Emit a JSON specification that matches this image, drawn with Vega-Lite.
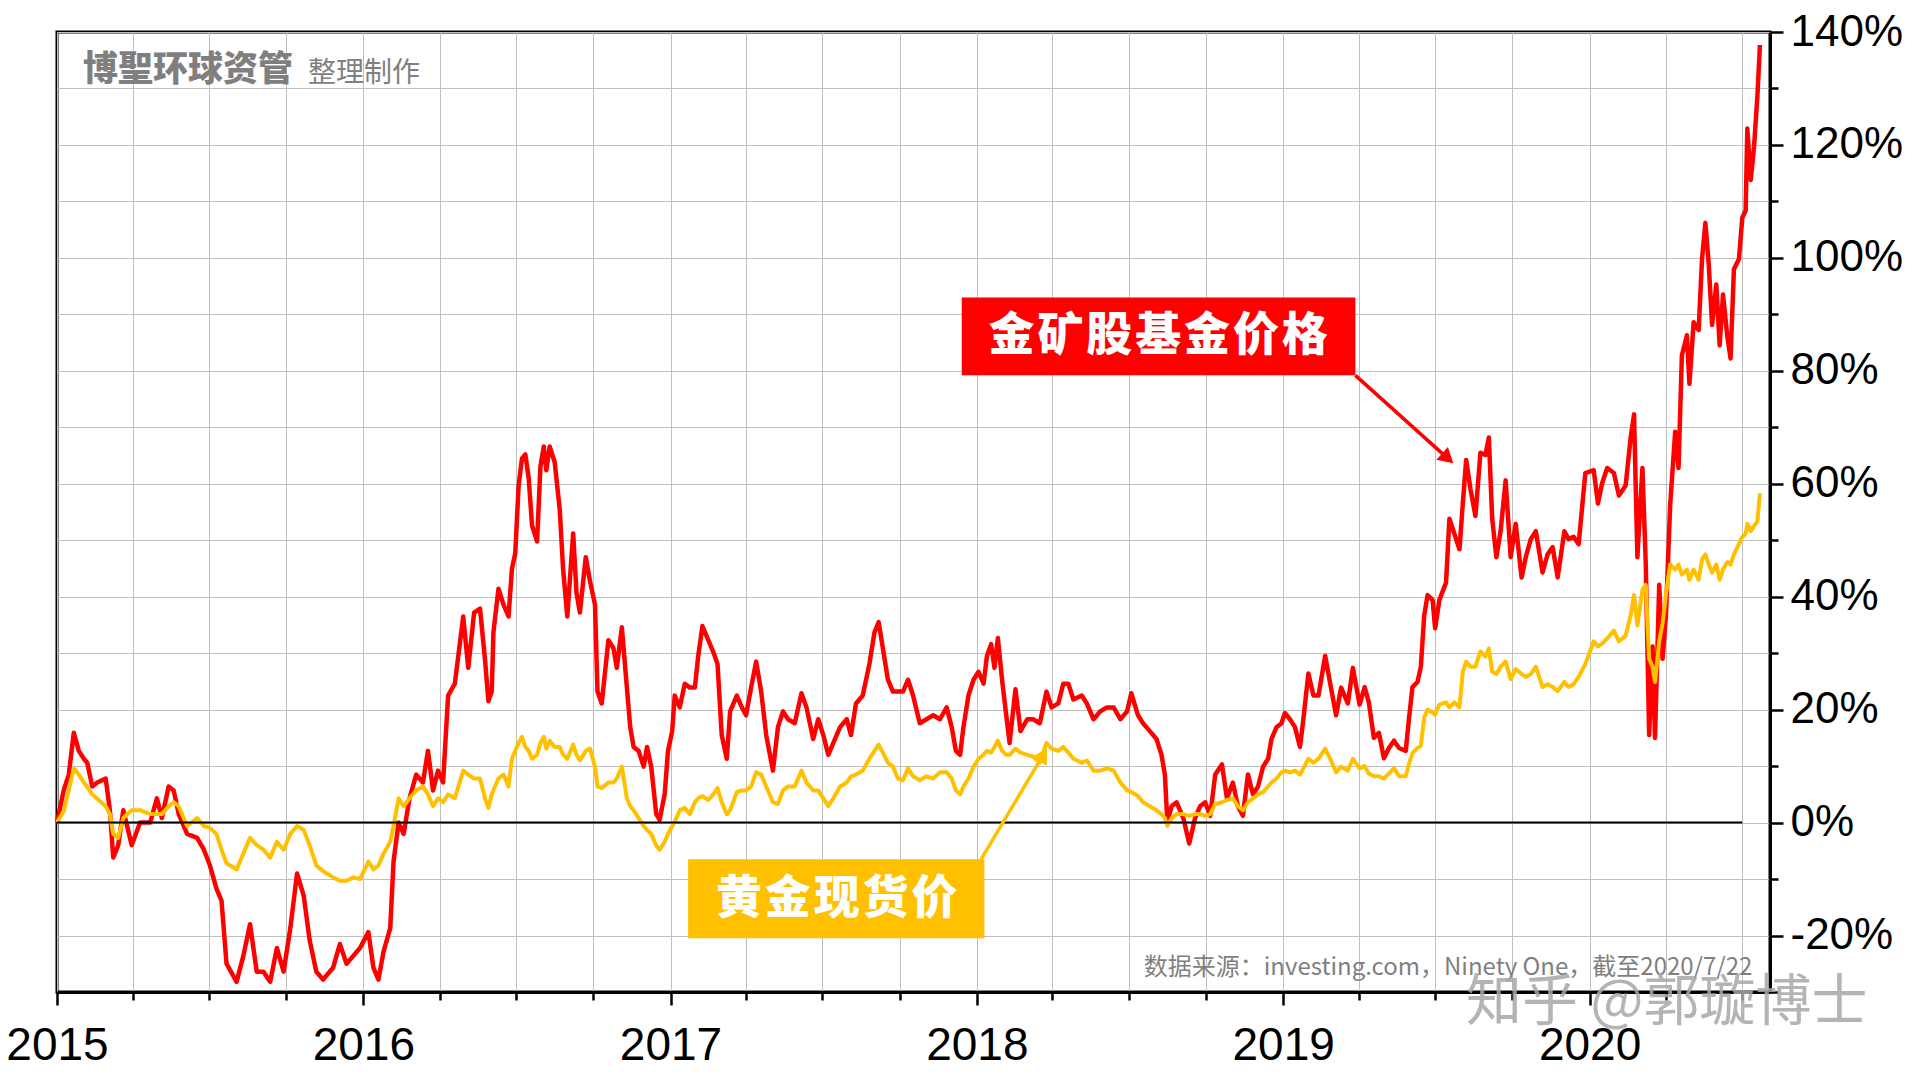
{
  "$schema": "https://vega.github.io/schema/vega-lite/v6.json",
  "width": 1713,
  "height": 960,
  "autosize": {"type": "none"},
  "padding": {"left": 57, "top": 32, "right": 150, "bottom": 88},
  "background": "white",
  "config": {"view": {"stroke": "black", "strokeWidth": 3}, "font": "Liberation Sans"},
  "datasets": {
    "fund": [
      {"d":"2015-01-01","v":0},{"d":"2015-01-09","v":5.7},{"d":"2015-01-15","v":8.5},{"d":"2015-01-21","v":15.9},{"d":"2015-01-27","v":12.7},{"d":"2015-02-02","v":11.3},{"d":"2015-02-06","v":10.6},{"d":"2015-02-12","v":6.4},{"d":"2015-02-18","v":7.1},{"d":"2015-02-28","v":7.8},{"d":"2015-03-05","v":2.2},{"d":"2015-03-09","v":-6.2},{"d":"2015-03-15","v":-4},{"d":"2015-03-21","v":2.2},{"d":"2015-03-31","v":-4},{"d":"2015-04-10","v":0},{"d":"2015-04-22","v":0},{"d":"2015-04-30","v":4.3},{"d":"2015-05-06","v":0.8},{"d":"2015-05-14","v":6.4},{"d":"2015-05-20","v":5.7},{"d":"2015-05-26","v":1.5},{"d":"2015-06-05","v":-2},{"d":"2015-06-17","v":-2.7},{"d":"2015-06-25","v":-4.8},{"d":"2015-07-02","v":-7.5},{"d":"2015-07-10","v":-11.7},{"d":"2015-07-16","v":-13.8},{"d":"2015-07-22","v":-25},{"d":"2015-08-03","v":-28.2},{"d":"2015-08-11","v":-23.6},{"d":"2015-08-19","v":-18},{"d":"2015-08-27","v":-26.4},{"d":"2015-09-04","v":-26.4},{"d":"2015-09-12","v":-28.2},{"d":"2015-09-20","v":-22.2},{"d":"2015-09-28","v":-26.4},{"d":"2015-10-06","v":-18.7},{"d":"2015-10-14","v":-9},{"d":"2015-10-22","v":-13},{"d":"2015-10-29","v":-20.8},{"d":"2015-11-06","v":-26.4},{"d":"2015-11-14","v":-27.8},{"d":"2015-11-26","v":-25.7},{"d":"2015-12-04","v":-21.5},{"d":"2015-12-12","v":-25},{"d":"2015-12-20","v":-23.6},{"d":"2015-12-28","v":-22.2},{"d":"2016-01-07","v":-19.4},{"d":"2016-01-13","v":-25.7},{"d":"2016-01-19","v":-27.8},{"d":"2016-01-25","v":-22.9},{"d":"2016-02-02","v":-18.7},{"d":"2016-02-06","v":-6.9},{"d":"2016-02-12","v":0},{"d":"2016-02-18","v":-2},{"d":"2016-02-25","v":4.3},{"d":"2016-03-04","v":8.5},{"d":"2016-03-12","v":7.1},{"d":"2016-03-18","v":12.7},{"d":"2016-03-24","v":5.7},{"d":"2016-03-30","v":9.2},{"d":"2016-04-05","v":7.1},{"d":"2016-04-11","v":22.5},{"d":"2016-04-19","v":24.6},{"d":"2016-04-29","v":36.5},{"d":"2016-05-05","v":27.4},{"d":"2016-05-12","v":37.2},{"d":"2016-05-19","v":37.9},{"d":"2016-05-25","v":28.8},{"d":"2016-05-29","v":21.5},{"d":"2016-06-02","v":23.2},{"d":"2016-06-04","v":33.7},{"d":"2016-06-10","v":41.4},{"d":"2016-06-16","v":38.6},{"d":"2016-06-22","v":36.5},{"d":"2016-06-26","v":44.9},{"d":"2016-06-30","v":47.7},{"d":"2016-07-04","v":59.6},{"d":"2016-07-08","v":64.5},{"d":"2016-07-12","v":65.2},{"d":"2016-07-16","v":61},{"d":"2016-07-20","v":52.6},{"d":"2016-07-26","v":49.8},{"d":"2016-07-30","v":63.1},{"d":"2016-08-03","v":66.6},{"d":"2016-08-06","v":62.4},{"d":"2016-08-10","v":66.6},{"d":"2016-08-16","v":63.8},{"d":"2016-08-22","v":55.4},{"d":"2016-08-26","v":44.9},{"d":"2016-08-31","v":36.5},{"d":"2016-09-07","v":51.2},{"d":"2016-09-11","v":40.7},{"d":"2016-09-15","v":37.2},{"d":"2016-09-22","v":47},{"d":"2016-09-27","v":42.8},{"d":"2016-10-03","v":38.6},{"d":"2016-10-06","v":23.2},{"d":"2016-10-11","v":21.1},{"d":"2016-10-19","v":32.3},{"d":"2016-10-25","v":30.9},{"d":"2016-10-29","v":27.4},{"d":"2016-11-04","v":34.6},{"d":"2016-11-10","v":23.9},{"d":"2016-11-14","v":16.9},{"d":"2016-11-18","v":13.4},{"d":"2016-11-24","v":12.7},{"d":"2016-11-30","v":9.9},{"d":"2016-12-04","v":13.4},{"d":"2016-12-09","v":9.9},{"d":"2016-12-15","v":1.5},{"d":"2016-12-19","v":0.5},{"d":"2016-12-25","v":5},{"d":"2016-12-29","v":12.7},
      {"d":"2017-01-03","v":16.2},{"d":"2017-01-06","v":22.5},{"d":"2017-01-12","v":20.4},{"d":"2017-01-18","v":24.6},{"d":"2017-01-24","v":23.9},{"d":"2017-01-30","v":23.9},{"d":"2017-02-03","v":29.5},{"d":"2017-02-08","v":34.8},{"d":"2017-02-15","v":32.3},{"d":"2017-02-21","v":30.2},{"d":"2017-02-26","v":28.1},{"d":"2017-03-03","v":15.5},{"d":"2017-03-09","v":11.3},{"d":"2017-03-13","v":19.7},{"d":"2017-03-21","v":22.5},{"d":"2017-03-27","v":20.4},{"d":"2017-04-01","v":19},{"d":"2017-04-07","v":23.9},{"d":"2017-04-13","v":28.5},{"d":"2017-04-19","v":23.2},{"d":"2017-04-25","v":15.5},{"d":"2017-05-03","v":9.2},{"d":"2017-05-09","v":16.9},{"d":"2017-05-15","v":19.7},{"d":"2017-05-21","v":18.3},{"d":"2017-05-29","v":17.6},{"d":"2017-06-06","v":22.9},{"d":"2017-06-12","v":20.4},{"d":"2017-06-20","v":14.8},{"d":"2017-06-26","v":18.3},{"d":"2017-07-02","v":15.5},{"d":"2017-07-08","v":12},{"d":"2017-07-14","v":14.1},{"d":"2017-07-22","v":16.9},{"d":"2017-07-30","v":18.3},{"d":"2017-08-04","v":15.5},{"d":"2017-08-10","v":21.1},{"d":"2017-08-18","v":22.5},{"d":"2017-08-26","v":28.1},{"d":"2017-09-01","v":33.7},{"d":"2017-09-06","v":35.5},{"d":"2017-09-11","v":30.9},{"d":"2017-09-17","v":25.3},{"d":"2017-09-23","v":23.2},{"d":"2017-09-29","v":23.2},{"d":"2017-10-05","v":23.2},{"d":"2017-10-11","v":25.3},{"d":"2017-10-17","v":22.5},{"d":"2017-10-25","v":17.6},{"d":"2017-11-02","v":18.3},{"d":"2017-11-10","v":19},{"d":"2017-11-18","v":18.3},{"d":"2017-11-26","v":20.4},{"d":"2017-12-02","v":16.9},{"d":"2017-12-07","v":12.7},{"d":"2017-12-12","v":12},{"d":"2017-12-16","v":16.9},{"d":"2017-12-22","v":22.5},{"d":"2017-12-28","v":25.3},
      {"d":"2018-01-03","v":26.7},{"d":"2018-01-09","v":24.6},{"d":"2018-01-13","v":29.5},{"d":"2018-01-18","v":31.6},{"d":"2018-01-22","v":27.4},{"d":"2018-01-26","v":32.7},{"d":"2018-01-31","v":25.3},{"d":"2018-02-05","v":19},{"d":"2018-02-09","v":14.1},{"d":"2018-02-16","v":23.6},{"d":"2018-02-22","v":16.2},{"d":"2018-03-02","v":18.3},{"d":"2018-03-09","v":18.3},{"d":"2018-03-17","v":17.6},{"d":"2018-03-25","v":23.2},{"d":"2018-03-31","v":20.4},{"d":"2018-04-08","v":21.1},{"d":"2018-04-14","v":24.6},{"d":"2018-04-20","v":24.6},{"d":"2018-04-26","v":21.8},{"d":"2018-05-06","v":22.5},{"d":"2018-05-12","v":21.1},{"d":"2018-05-20","v":18.3},{"d":"2018-05-28","v":19.7},{"d":"2018-06-05","v":20.4},{"d":"2018-06-13","v":20.4},{"d":"2018-06-21","v":18.3},{"d":"2018-06-29","v":19.7},{"d":"2018-07-04","v":22.9},{"d":"2018-07-12","v":19},{"d":"2018-07-18","v":17.6},{"d":"2018-07-26","v":16.2},{"d":"2018-08-03","v":14.8},{"d":"2018-08-09","v":12},{"d":"2018-08-13","v":8.5},{"d":"2018-08-16","v":0.1},{"d":"2018-08-21","v":2.9},{"d":"2018-08-27","v":3.6},{"d":"2018-09-04","v":0.8},{"d":"2018-09-11","v":-3.7},{"d":"2018-09-18","v":0.8},{"d":"2018-09-24","v":2.9},{"d":"2018-09-30","v":3.6},{"d":"2018-10-06","v":1.2},{"d":"2018-10-12","v":8.5},{"d":"2018-10-20","v":10.3},{"d":"2018-10-26","v":4.3},{"d":"2018-11-02","v":7.1},{"d":"2018-11-08","v":2.9},{"d":"2018-11-14","v":1.2},{"d":"2018-11-20","v":8.5},{"d":"2018-11-26","v":5},{"d":"2018-12-02","v":6.4},{"d":"2018-12-08","v":9.9},{"d":"2018-12-14","v":11.3},{"d":"2018-12-18","v":14.8},{"d":"2018-12-24","v":16.9},{"d":"2018-12-30","v":17.6},
      {"d":"2019-01-03","v":19.4},{"d":"2019-01-09","v":18.3},{"d":"2019-01-15","v":16.9},{"d":"2019-01-21","v":13.4},{"d":"2019-01-25","v":18.3},{"d":"2019-01-31","v":26.4},{"d":"2019-02-06","v":22.5},{"d":"2019-02-12","v":22.5},{"d":"2019-02-20","v":29.5},{"d":"2019-02-26","v":24.6},{"d":"2019-03-05","v":19},{"d":"2019-03-11","v":23.9},{"d":"2019-03-19","v":21.1},{"d":"2019-03-25","v":27.4},{"d":"2019-04-02","v":20.9},{"d":"2019-04-08","v":24},{"d":"2019-04-13","v":21.3},{"d":"2019-04-19","v":15},{"d":"2019-04-25","v":15.9},{"d":"2019-05-01","v":11.4},{"d":"2019-05-07","v":13.2},{"d":"2019-05-13","v":14.5},{"d":"2019-05-19","v":13.2},{"d":"2019-05-27","v":12.7},{"d":"2019-05-31","v":18.6},{"d":"2019-06-04","v":24},{"d":"2019-06-10","v":24.9},{"d":"2019-06-14","v":27.6},{"d":"2019-06-18","v":36.7},{"d":"2019-06-22","v":40.3},{"d":"2019-06-28","v":39.4},{"d":"2019-07-01","v":34.4},{"d":"2019-07-06","v":39.4},{"d":"2019-07-14","v":42.5},{"d":"2019-07-18","v":53.8},{"d":"2019-07-24","v":51.1},{"d":"2019-07-30","v":48.4},{"d":"2019-08-03","v":56.5},{"d":"2019-08-07","v":64.2},{"d":"2019-08-12","v":59.2},{"d":"2019-08-18","v":54.3},{"d":"2019-08-24","v":65.5},{"d":"2019-08-30","v":65.1},{"d":"2019-09-03","v":68.2},{"d":"2019-09-07","v":53.8},{"d":"2019-09-12","v":47},{"d":"2019-09-17","v":51.6},{"d":"2019-09-23","v":60.6},{"d":"2019-09-29","v":47},{"d":"2019-10-05","v":52.9},{"d":"2019-10-12","v":43.4},{"d":"2019-10-17","v":47},{"d":"2019-10-23","v":50.2},{"d":"2019-10-29","v":51.6},{"d":"2019-11-06","v":44.3},{"d":"2019-11-12","v":47.5},{"d":"2019-11-18","v":48.8},{"d":"2019-11-24","v":43.4},{"d":"2019-12-02","v":51.6},{"d":"2019-12-07","v":50.2},{"d":"2019-12-13","v":50.6},{"d":"2019-12-19","v":49.3},{"d":"2019-12-27","v":61.9},
      {"d":"2020-01-06","v":62.4},{"d":"2020-01-11","v":56.5},{"d":"2020-01-16","v":60.1},{"d":"2020-01-22","v":62.8},{"d":"2020-01-30","v":61.9},{"d":"2020-02-05","v":57.9},{"d":"2020-02-13","v":59.7},{"d":"2020-02-19","v":68.2},{"d":"2020-02-23","v":72.3},{"d":"2020-02-27","v":47},{"d":"2020-03-04","v":62.8},{"d":"2020-03-08","v":45.7},{"d":"2020-03-12","v":15.5},{"d":"2020-03-16","v":31.2},{"d":"2020-03-19","v":15},{"d":"2020-03-24","v":42.1},{"d":"2020-03-28","v":29},{"d":"2020-04-01","v":36.7},{"d":"2020-04-06","v":56.1},{"d":"2020-04-12","v":69.2},{"d":"2020-04-16","v":62.8},{"d":"2020-04-20","v":82.7},{"d":"2020-04-26","v":86.3},{"d":"2020-04-29","v":77.7},{"d":"2020-05-04","v":88.6},{"d":"2020-05-10","v":87.2},{"d":"2020-05-14","v":99.8},{"d":"2020-05-18","v":106.2},{"d":"2020-05-22","v":98.9},{"d":"2020-05-26","v":88.1},{"d":"2020-05-31","v":95.3},{"d":"2020-06-04","v":84.5},{"d":"2020-06-08","v":93.5},{"d":"2020-06-13","v":86.3},{"d":"2020-06-17","v":82.2},{"d":"2020-06-21","v":98},{"d":"2020-06-27","v":99.8},{"d":"2020-07-01","v":107.1},{"d":"2020-07-05","v":108.4},{"d":"2020-07-07","v":122.9},{"d":"2020-07-11","v":113.8},{"d":"2020-07-15","v":119.7},{"d":"2020-07-19","v":128.7},{"d":"2020-07-22","v":137.7}
    ],
    "gold": [
      {"d":"2015-01-01","v":0},{"d":"2015-01-09","v":2},{"d":"2015-01-15","v":5.7},{"d":"2015-01-21","v":9.6},{"d":"2015-01-27","v":8.5},{"d":"2015-02-02","v":7.1},{"d":"2015-02-06","v":6.3},{"d":"2015-02-12","v":5},{"d":"2015-02-28","v":2.9},{"d":"2015-03-05","v":1.5},{"d":"2015-03-09","v":-2},{"d":"2015-03-15","v":-2.7},{"d":"2015-03-21","v":0.8},{"d":"2015-03-31","v":2.2},{"d":"2015-04-10","v":2.2},{"d":"2015-04-22","v":1.5},{"d":"2015-04-30","v":1.5},{"d":"2015-05-06","v":1.5},{"d":"2015-05-14","v":2.9},{"d":"2015-05-20","v":3.6},{"d":"2015-05-26","v":2.9},{"d":"2015-06-05","v":-0.6},{"d":"2015-06-17","v":0.8},{"d":"2015-06-25","v":-0.6},{"d":"2015-07-02","v":-0.9},{"d":"2015-07-10","v":-2},{"d":"2015-07-16","v":-4.8},{"d":"2015-07-22","v":-7.2},{"d":"2015-08-03","v":-8.3},{"d":"2015-08-11","v":-5.5},{"d":"2015-08-19","v":-2.7},{"d":"2015-08-27","v":-4},{"d":"2015-09-04","v":-4.8},{"d":"2015-09-12","v":-6.2},{"d":"2015-09-20","v":-3.4},{"d":"2015-09-28","v":-4.8},{"d":"2015-10-06","v":-2},{"d":"2015-10-14","v":-0.6},{"d":"2015-10-22","v":-1.3},{"d":"2015-10-29","v":-4},{"d":"2015-11-06","v":-7.6},{"d":"2015-11-14","v":-8.6},{"d":"2015-11-26","v":-9.7},{"d":"2015-12-04","v":-10.3},{"d":"2015-12-12","v":-10.3},{"d":"2015-12-20","v":-9.7},{"d":"2015-12-28","v":-10},{"d":"2016-01-07","v":-6.9},{"d":"2016-01-13","v":-8.3},{"d":"2016-01-19","v":-7.6},{"d":"2016-01-25","v":-5.5},{"d":"2016-02-02","v":-3.4},{"d":"2016-02-06","v":-0.6},{"d":"2016-02-12","v":4.3},{"d":"2016-02-18","v":2.9},{"d":"2016-02-25","v":4.3},{"d":"2016-03-04","v":5.7},{"d":"2016-03-12","v":6.4},{"d":"2016-03-18","v":5},{"d":"2016-03-24","v":2.9},{"d":"2016-03-30","v":4.3},{"d":"2016-04-05","v":3.6},{"d":"2016-04-11","v":5},{"d":"2016-04-19","v":4.3},{"d":"2016-04-29","v":9.2},{"d":"2016-05-05","v":8.5},{"d":"2016-05-12","v":7.8},{"d":"2016-05-19","v":7.8},{"d":"2016-05-25","v":4.3},{"d":"2016-05-29","v":2.6},{"d":"2016-06-02","v":5},{"d":"2016-06-10","v":7.8},{"d":"2016-06-16","v":8.5},{"d":"2016-06-22","v":6.4},{"d":"2016-06-26","v":11.3},{"d":"2016-06-30","v":12.7},{"d":"2016-07-04","v":14.1},{"d":"2016-07-08","v":15.2},{"d":"2016-07-12","v":13.4},{"d":"2016-07-16","v":12.7},{"d":"2016-07-20","v":11.3},{"d":"2016-07-26","v":12},{"d":"2016-07-30","v":14.1},{"d":"2016-08-03","v":15.2},{"d":"2016-08-06","v":13.1},{"d":"2016-08-10","v":14.5},{"d":"2016-08-16","v":13.4},{"d":"2016-08-22","v":13.4},{"d":"2016-08-26","v":12},{"d":"2016-08-31","v":11.3},{"d":"2016-09-07","v":13.8},{"d":"2016-09-11","v":12},{"d":"2016-09-15","v":11},{"d":"2016-09-22","v":12.7},{"d":"2016-09-27","v":13.1},{"d":"2016-10-03","v":9.9},{"d":"2016-10-06","v":6.4},{"d":"2016-10-11","v":6.1},{"d":"2016-10-19","v":7.1},{"d":"2016-10-25","v":7.1},{"d":"2016-10-29","v":7.8},{"d":"2016-11-04","v":9.9},{"d":"2016-11-10","v":4.3},{"d":"2016-11-14","v":2.9},{"d":"2016-11-18","v":2.2},{"d":"2016-11-24","v":0.8},{"d":"2016-11-30","v":-0.6},{"d":"2016-12-04","v":-1.3},{"d":"2016-12-09","v":-2},{"d":"2016-12-15","v":-4.1},{"d":"2016-12-19","v":-4.8},{"d":"2016-12-25","v":-3.4},{"d":"2016-12-29","v":-2},
      {"d":"2017-01-03","v":-0.6},{"d":"2017-01-06","v":0.1},{"d":"2017-01-12","v":2.2},{"d":"2017-01-18","v":2.6},{"d":"2017-01-24","v":1.5},{"d":"2017-01-30","v":3.6},{"d":"2017-02-03","v":4.3},{"d":"2017-02-08","v":4.7},{"d":"2017-02-15","v":4},{"d":"2017-02-21","v":5},{"d":"2017-02-26","v":6.1},{"d":"2017-03-03","v":3.6},{"d":"2017-03-09","v":1.5},{"d":"2017-03-13","v":2.2},{"d":"2017-03-21","v":5.4},{"d":"2017-03-27","v":5.7},{"d":"2017-04-01","v":5.7},{"d":"2017-04-07","v":6.4},{"d":"2017-04-13","v":8.9},{"d":"2017-04-19","v":8.5},{"d":"2017-04-25","v":6.4},{"d":"2017-05-03","v":3.6},{"d":"2017-05-09","v":3.3},{"d":"2017-05-15","v":5.7},{"d":"2017-05-21","v":6.4},{"d":"2017-05-29","v":6.4},{"d":"2017-06-06","v":9.2},{"d":"2017-06-12","v":7.1},{"d":"2017-06-20","v":5.7},{"d":"2017-06-26","v":5.7},{"d":"2017-07-02","v":4.3},{"d":"2017-07-08","v":2.9},{"d":"2017-07-14","v":4.3},{"d":"2017-07-22","v":6.4},{"d":"2017-07-30","v":7.1},{"d":"2017-08-04","v":8.2},{"d":"2017-08-10","v":8.5},{"d":"2017-08-18","v":9.2},{"d":"2017-08-26","v":11.3},{"d":"2017-09-01","v":12.7},{"d":"2017-09-06","v":13.8},{"d":"2017-09-11","v":12.4},{"d":"2017-09-17","v":10.6},{"d":"2017-09-23","v":9.9},{"d":"2017-09-29","v":7.8},{"d":"2017-10-05","v":7.5},{"d":"2017-10-11","v":9.6},{"d":"2017-10-17","v":8.2},{"d":"2017-10-25","v":7.5},{"d":"2017-11-02","v":8.2},{"d":"2017-11-10","v":7.8},{"d":"2017-11-18","v":8.9},{"d":"2017-11-26","v":8.9},{"d":"2017-12-02","v":7.8},{"d":"2017-12-07","v":5.7},{"d":"2017-12-12","v":5},{"d":"2017-12-16","v":6.4},{"d":"2017-12-22","v":7.8},{"d":"2017-12-28","v":9.9},
      {"d":"2018-01-03","v":11.3},{"d":"2018-01-09","v":12},{"d":"2018-01-13","v":12.7},{"d":"2018-01-18","v":12.4},{"d":"2018-01-22","v":13.4},{"d":"2018-01-26","v":14.5},{"d":"2018-01-31","v":12.7},{"d":"2018-02-05","v":12},{"d":"2018-02-09","v":12},{"d":"2018-02-16","v":13.1},{"d":"2018-02-22","v":12.4},{"d":"2018-03-02","v":12},{"d":"2018-03-09","v":11.7},{"d":"2018-03-17","v":10.6},{"d":"2018-03-25","v":14.1},{"d":"2018-03-31","v":13.1},{"d":"2018-04-08","v":12.7},{"d":"2018-04-14","v":13.4},{"d":"2018-04-20","v":12.4},{"d":"2018-04-26","v":11.3},{"d":"2018-05-06","v":10.6},{"d":"2018-05-12","v":11},{"d":"2018-05-20","v":9.2},{"d":"2018-05-28","v":9.2},{"d":"2018-06-05","v":9.6},{"d":"2018-06-13","v":9.2},{"d":"2018-06-21","v":7.1},{"d":"2018-06-29","v":5.7},{"d":"2018-07-04","v":5.4},{"d":"2018-07-12","v":4.7},{"d":"2018-07-18","v":3.6},{"d":"2018-07-26","v":2.9},{"d":"2018-08-03","v":2.2},{"d":"2018-08-09","v":1.5},{"d":"2018-08-13","v":0.8},{"d":"2018-08-16","v":-0.6},{"d":"2018-08-21","v":0.8},{"d":"2018-08-27","v":1.5},{"d":"2018-09-04","v":1.5},{"d":"2018-09-11","v":1.2},{"d":"2018-09-18","v":1.5},{"d":"2018-09-24","v":1.5},{"d":"2018-09-30","v":1.2},{"d":"2018-10-06","v":1.5},{"d":"2018-10-12","v":3.3},{"d":"2018-10-20","v":3.6},{"d":"2018-10-26","v":4},{"d":"2018-11-02","v":4.3},{"d":"2018-11-08","v":2.9},{"d":"2018-11-14","v":2.2},{"d":"2018-11-20","v":3.6},{"d":"2018-11-26","v":4.3},{"d":"2018-12-02","v":5},{"d":"2018-12-08","v":5.4},{"d":"2018-12-14","v":6.4},{"d":"2018-12-18","v":7.1},{"d":"2018-12-24","v":7.8},{"d":"2018-12-30","v":8.9},
      {"d":"2019-01-03","v":9.2},{"d":"2019-01-09","v":8.9},{"d":"2019-01-15","v":9.2},{"d":"2019-01-21","v":8.5},{"d":"2019-01-25","v":9.6},{"d":"2019-01-31","v":11.3},{"d":"2019-02-06","v":10.6},{"d":"2019-02-12","v":11.3},{"d":"2019-02-20","v":13.1},{"d":"2019-02-26","v":11.3},{"d":"2019-03-05","v":8.9},{"d":"2019-03-11","v":9.9},{"d":"2019-03-19","v":9.2},{"d":"2019-03-25","v":11.3},{"d":"2019-04-02","v":9.6},{"d":"2019-04-08","v":10},{"d":"2019-04-13","v":8.7},{"d":"2019-04-19","v":8.2},{"d":"2019-04-25","v":8.2},{"d":"2019-05-01","v":7.8},{"d":"2019-05-07","v":8.7},{"d":"2019-05-13","v":9.6},{"d":"2019-05-19","v":8.2},{"d":"2019-05-27","v":8.2},{"d":"2019-05-31","v":10.5},{"d":"2019-06-04","v":12.3},{"d":"2019-06-10","v":13.2},{"d":"2019-06-14","v":13.6},{"d":"2019-06-18","v":18.6},{"d":"2019-06-22","v":20},{"d":"2019-06-28","v":19.5},{"d":"2019-07-01","v":19.1},{"d":"2019-07-06","v":20.9},{"d":"2019-07-14","v":21.3},{"d":"2019-07-18","v":20.4},{"d":"2019-07-24","v":21.3},{"d":"2019-07-30","v":20.4},{"d":"2019-08-03","v":26.7},{"d":"2019-08-07","v":28.5},{"d":"2019-08-12","v":27.6},{"d":"2019-08-18","v":27.6},{"d":"2019-08-24","v":30.3},{"d":"2019-08-30","v":29.4},{"d":"2019-09-03","v":30.8},{"d":"2019-09-07","v":26.7},{"d":"2019-09-12","v":26.3},{"d":"2019-09-17","v":27.6},{"d":"2019-09-23","v":28.5},{"d":"2019-09-29","v":25.4},{"d":"2019-10-05","v":27.2},{"d":"2019-10-12","v":26.3},{"d":"2019-10-17","v":25.8},{"d":"2019-10-23","v":26.3},{"d":"2019-10-29","v":27.6},{"d":"2019-11-06","v":24},{"d":"2019-11-12","v":24.5},{"d":"2019-11-18","v":24},{"d":"2019-11-24","v":23.3},{"d":"2019-12-02","v":24.9},{"d":"2019-12-07","v":24},{"d":"2019-12-13","v":24.5},{"d":"2019-12-19","v":25.8},{"d":"2019-12-27","v":28.1},
      {"d":"2020-01-06","v":32.1},{"d":"2020-01-11","v":31.2},{"d":"2020-01-16","v":31.7},{"d":"2020-01-22","v":32.6},{"d":"2020-01-30","v":34},{"d":"2020-02-05","v":32.1},{"d":"2020-02-13","v":33.1},{"d":"2020-02-19","v":36.7},{"d":"2020-02-23","v":40.3},{"d":"2020-02-27","v":34.9},{"d":"2020-03-04","v":41.2},{"d":"2020-03-08","v":42.1},{"d":"2020-03-12","v":29},{"d":"2020-03-16","v":27.6},{"d":"2020-03-19","v":24.9},{"d":"2020-03-24","v":32.1},{"d":"2020-03-28","v":35.3},{"d":"2020-04-01","v":40.3},{"d":"2020-04-06","v":45.7},{"d":"2020-04-12","v":44.8},{"d":"2020-04-16","v":45.7},{"d":"2020-04-20","v":43.9},{"d":"2020-04-26","v":44.8},{"d":"2020-04-29","v":43},{"d":"2020-05-04","v":44.8},{"d":"2020-05-10","v":43},{"d":"2020-05-14","v":46.6},{"d":"2020-05-18","v":47.5},{"d":"2020-05-22","v":45.7},{"d":"2020-05-26","v":44.3},{"d":"2020-05-31","v":45.7},{"d":"2020-06-04","v":43},{"d":"2020-06-08","v":44.8},{"d":"2020-06-13","v":46.1},{"d":"2020-06-17","v":45.7},{"d":"2020-06-21","v":47.5},{"d":"2020-06-27","v":49.3},{"d":"2020-07-01","v":50.6},{"d":"2020-07-05","v":51.1},{"d":"2020-07-07","v":52.9},{"d":"2020-07-11","v":51.6},{"d":"2020-07-15","v":52.5},{"d":"2020-07-19","v":53.4},{"d":"2020-07-22","v":58.3}
    ],
    "zero": [{"d":"2015-01-01","d2":"2020-07-01","v":0}],
    "boxes": [
      {"k":"fund","d":"2017-12-14","d2":"2019-03-28","v":79.2,"v2":93.0,"t":"金\u200a矿\u200a股\u200a基\u200a金\u200a价\u200a格","m":"2018-08-05","c":86.1},
      {"k":"gold","d":"2017-01-22","d2":"2018-01-10","v":-20.5,"v2":-6.5,"t":"黄\u200a金\u200a现\u200a货\u200a价","m":"2017-07-18","c":-13.5}
    ],
    "arrows": [
      {"k":"fund","d":"2019-03-28","v":79.2,"d2":"2019-07-16","v2":64.5},
      {"k":"gold","d":"2018-01-06","v":-6.5,"d2":"2018-03-21","v2":12.0}
    ],
    "notes": [
      {"k":"brand","t":"博聖环球资管","d":"2015-02-01","v":133.2},
      {"k":"made","t":"整理制作","d":"2015-10-27","v":132.6},
      {"k":"source","t":"数据来源：investing.com，Ninety One，截至2020/7/22","d":"2020-07-13","v":-25.8},
      {"k":"mark","t":"知乎 @郭璇博士","d":"2020-04-02","v":-32}
    ]
  },
  "layer": [
    {
      "data": {"name": "fund"},
      "mark": {"type": "line", "color": "#ff0000", "strokeWidth": 4.5, "strokeJoin": "round"},
      "encoding": {
        "x": {
          "field": "d", "type": "temporal",
          "scale": {"domain": [{"year": 2015, "month": 1, "date": 1}, {"year": 2020, "month": 8, "date": 3}]},
          "axis": {
            "title": null,
            "tickCount": {"interval": "month", "step": 3},
            "grid": true, "gridColor": "#bfbfbf", "gridWidth": 1,
            "domainColor": "black", "domainWidth": 3,
            "tickColor": "black", "tickWidth": 2.5,
            "tickSize": {"condition": {"test": "month(datum.value) === 0", "value": 13}, "value": 8},
            "labelExpr": "month(datum.value) === 0 ? timeFormat(datum.value, '%Y') : ''",
            "labelFont": "Liberation Sans", "labelFontSize": 46, "labelColor": "black",
            "labelPadding": 18, "labelFlush": false, "labelOverlap": false, "labelBound": false
          }
        },
        "y": {
          "field": "v", "type": "quantitative",
          "scale": {"domain": [-30, 140], "nice": false, "zero": false},
          "axis": {
            "title": null, "orient": "right",
            "values": [-30, -20, -10, 0, 10, 20, 30, 40, 50, 60, 70, 80, 90, 100, 110, 120, 130, 140],
            "grid": true, "gridColor": "#bfbfbf", "gridWidth": 1,
            "domainColor": "black", "domainWidth": 3,
            "tickColor": "black", "tickWidth": 2.5,
            "tickSize": {"condition": {"test": "datum.value % 20 === 0", "value": 13}, "value": 8},
            "labelExpr": "datum.value % 20 === 0 ? datum.value + '%' : ''",
            "labelFont": "Liberation Sans", "labelFontSize": 44, "labelColor": "black",
            "labelPadding": 7, "labelFlush": false, "labelOverlap": false, "labelBound": false
          }
        }
      }
    },
    {
      "data": {"name": "gold"},
      "mark": {"type": "line", "color": "#ffc000", "strokeWidth": 4, "strokeJoin": "round"},
      "encoding": {
        "x": {"field": "d", "type": "temporal"},
        "y": {"field": "v", "type": "quantitative"}
      }
    },
    {
      "data": {"name": "zero"},
      "mark": {"type": "rule", "color": "black", "strokeWidth": 2},
      "encoding": {
        "x": {"field": "d", "type": "temporal"},
        "x2": {"field": "d2"},
        "y": {"field": "v", "type": "quantitative"}
      }
    },
    {
      "data": {"name": "boxes"},
      "mark": {"type": "rect"},
      "encoding": {
        "x": {"field": "d", "type": "temporal"},
        "x2": {"field": "d2"},
        "y": {"field": "v", "type": "quantitative"},
        "y2": {"field": "v2"},
        "color": {"field": "k", "type": "nominal", "scale": {"domain": ["fund", "gold"], "range": ["#ff0000", "#ffc000"]}, "legend": null}
      }
    },
    {
      "data": {"name": "boxes"},
      "mark": {"type": "text", "font": "Noto Sans CJK SC", "fontWeight": 900, "fontSize": 46, "color": "white", "align": "center", "baseline": "middle"},
      "encoding": {
        "x": {"field": "m", "type": "temporal"},
        "y": {"field": "c", "type": "quantitative"},
        "text": {"field": "t"}
      }
    },
    {
      "data": {"name": "arrows"},
      "mark": {"type": "rule", "strokeWidth": 3.5},
      "encoding": {
        "x": {"field": "d", "type": "temporal"},
        "x2": {"field": "d2"},
        "y": {"field": "v", "type": "quantitative"},
        "y2": {"field": "v2"},
        "color": {"field": "k", "type": "nominal", "legend": null}
      }
    },
    {
      "data": {"name": "arrows"},
      "transform": [{"filter": "datum.k === 'fund'"}],
      "mark": {"type": "point", "shape": "triangle-up", "filled": true, "size": 300, "angle": 132, "opacity": 1, "color": "#ff0000"},
      "encoding": {
        "x": {"field": "d2", "type": "temporal"},
        "y": {"field": "v2", "type": "quantitative"}
      }
    },
    {
      "data": {"name": "arrows"},
      "transform": [{"filter": "datum.k === 'gold'"}],
      "mark": {"type": "point", "shape": "triangle-up", "filled": true, "size": 300, "angle": 30, "opacity": 1, "color": "#ffc000"},
      "encoding": {
        "x": {"field": "d2", "type": "temporal"},
        "y": {"field": "v2", "type": "quantitative"}
      }
    },
    {
      "data": {"name": "notes"},
      "transform": [{"filter": "datum.k === 'brand'"}],
      "mark": {"type": "text", "font": "Noto Sans CJK SC", "fontWeight": 900, "fontSize": 35, "color": "#7f7f7f", "align": "left", "baseline": "middle"},
      "encoding": {
        "x": {"field": "d", "type": "temporal"},
        "y": {"field": "v", "type": "quantitative"},
        "text": {"field": "t"}
      }
    },
    {
      "data": {"name": "notes"},
      "transform": [{"filter": "datum.k === 'made'"}],
      "mark": {"type": "text", "font": "Noto Sans CJK SC", "fontSize": 28, "color": "#808080", "align": "left", "baseline": "middle"},
      "encoding": {
        "x": {"field": "d", "type": "temporal"},
        "y": {"field": "v", "type": "quantitative"},
        "text": {"field": "t"}
      }
    },
    {
      "data": {"name": "notes"},
      "transform": [{"filter": "datum.k === 'source'"}],
      "mark": {"type": "text", "font": "Noto Sans CJK SC", "fontSize": 24, "color": "#7f7f7f", "align": "right", "baseline": "middle"},
      "encoding": {
        "x": {"field": "d", "type": "temporal"},
        "y": {"field": "v", "type": "quantitative"},
        "text": {"field": "t"}
      }
    },
    {
      "data": {"name": "notes"},
      "transform": [{"filter": "datum.k === 'mark'"}],
      "mark": {"type": "text", "font": "Noto Sans CJK SC", "fontSize": 56, "color": "#a8a8a8", "opacity": 0.85, "align": "center", "baseline": "middle"},
      "encoding": {
        "x": {"field": "d", "type": "temporal"},
        "y": {"field": "v", "type": "quantitative"},
        "text": {"field": "t"}
      }
    }
  ]
}
